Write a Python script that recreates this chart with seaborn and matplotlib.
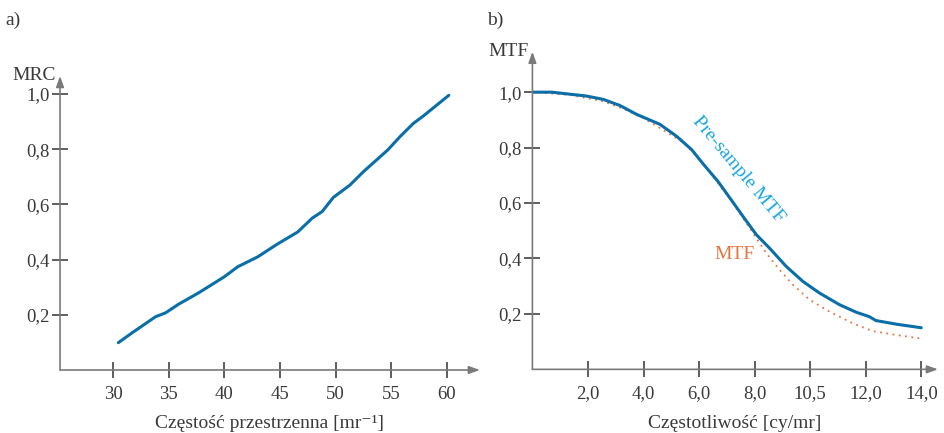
import numpy as np
import pandas as pd
import matplotlib
matplotlib.use("Agg")
import matplotlib.pyplot as plt
import seaborn as sns

# dane

# a) MRC
mrc_freq = [30.45, 31.7, 33.8, 34.7, 35.9, 37.7, 40.0, 41.2, 43.0, 44.8, 46.6,
            47.9, 48.8, 49.8, 51.3, 52.5, 54.7, 55.8, 57.0, 57.9, 60.2]
mrc_val = [0.099, 0.135, 0.193, 0.207, 0.239, 0.280, 0.338, 0.374, 0.410, 0.457, 0.500,
           0.550, 0.574, 0.625, 0.670, 0.718, 0.797, 0.845, 0.893, 0.920, 0.995]
mrc_ticks = [30, 35, 40, 45, 50, 55, 60]
mrc_yticks = [0.2, 0.4, 0.6, 0.8, 1.0]
mrc_ylabels = ["0,2", "0,4", "0,6", "0,8", "1,0"]

# b) MTF (os x w jednostkach podzialki, etykiety jak na rysunku)
pre_x = [0.0, 0.70, 1.95, 2.55, 3.15, 3.75, 4.59, 5.19, 5.73, 6.14, 6.68, 7.04,
         7.58, 8.06, 8.54, 9.14, 9.74, 10.34, 11.06, 11.66, 12.13, 12.37, 13.1, 14.0]
pre_y = [1.0, 1.0, 0.986, 0.974, 0.952, 0.920, 0.884, 0.841, 0.793, 0.742, 0.678, 0.628,
         0.552, 0.486, 0.437, 0.371, 0.317, 0.275, 0.233, 0.206, 0.190, 0.176, 0.163, 0.150]
mtf_x = [0.0, 1.35, 2.55, 3.27, 3.99, 4.71, 5.43, 6.03, 6.63, 7.22, 7.70, 8.06,
         8.42, 8.90, 9.38, 9.98, 10.70, 11.53, 12.25, 13.1, 13.93]
mtf_y = [1.0, 0.99, 0.967, 0.940, 0.907, 0.863, 0.818, 0.757, 0.679, 0.600, 0.528, 0.474,
         0.419, 0.359, 0.305, 0.251, 0.208, 0.166, 0.138, 0.124, 0.112]
mtf_ticks = [2, 4, 6, 8, 10, 12, 14]
mtf_tlabels = ["2,0", "4,0", "6,0", "8,0", "10,5", "12,0", "14,0"]

sns.set_style("white")
plt.rcParams['font.family'] = ['Liberation Serif', 'DejaVu Serif']
plt.rcParams['font.size'] = 13

txt = "#3a3a3a"
axc = "#7a7a7a"
blue = "#0a6ea8"
orange = "#e8743f"
cyan = "#17a6e0"

fig = plt.figure(figsize=(9.44, 4.33), dpi=100)
ax1 = fig.add_axes([0.0636, 0.1455, 0.4448, 0.679])
ax2 = fig.add_axes([0.564, 0.147, 0.4296, 0.7336])


def style_axes(ax):
    for s in ax.spines.values():
        s.set_visible(False)
    ax.annotate("", xy=(1, 0), xytext=(0, 0), xycoords="axes fraction",
                arrowprops=dict(arrowstyle="-|>,head_length=0.5,head_width=0.18",
                                color=axc, lw=1.2, shrinkA=0, shrinkB=0))
    ax.annotate("", xy=(0, 1), xytext=(0, 0), xycoords="axes fraction",
                arrowprops=dict(arrowstyle="-|>,head_length=0.5,head_width=0.18",
                                color=axc, lw=1.2, shrinkA=0, shrinkB=0))
    ax.tick_params(direction="inout", length=11, width=1.1, color="#333333",
                   labelcolor=txt, labelsize=13.5, left=True, bottom=True)
    ax.tick_params(axis="x", pad=6)
    ax.tick_params(axis="y", pad=2)
    ax.grid(False)


# a)
dfa = pd.DataFrame({"f": mrc_freq, "v": mrc_val})
sns.lineplot(data=dfa, x="f", y="v", ax=ax1, color=blue, lw=2.2)
ax1.set_xlim(25.2, 63.0)
ax1.set_ylim(0, 1.065)
ax1.set_xticks(mrc_ticks)
ax1.set_yticks(mrc_yticks)
ax1.set_yticklabels(mrc_ylabels)
ax1.set_xlabel("Częstość przestrzenna [mr⁻¹]", color=txt, fontsize=14, labelpad=9)
ax1.set_ylabel("")
style_axes(ax1)
ax1.text(-0.01, 1.0, "MRC", transform=ax1.transAxes, ha="right", va="center",
         color=txt, fontsize=14)
fig.text(0.006, 0.952, "a)", color=txt, fontsize=14, va="center")

# b)
dfp = pd.DataFrame({"f": pre_x, "v": pre_y})
dfm = pd.DataFrame({"f": mtf_x, "v": mtf_y})
sns.lineplot(data=dfm, x="f", y="v", ax=ax2, color=orange, lw=1.3, linestyle=(0, (1, 2.5)))
sns.lineplot(data=dfp, x="f", y="v", ax=ax2, color=blue, lw=2.2)
ax2.set_xlim(0, 14.6)
ax2.set_ylim(0, 1.146)
ax2.set_xticks(mtf_ticks)
ax2.set_xticklabels(mtf_tlabels)
ax2.set_yticks(mrc_yticks)
ax2.set_yticklabels(mrc_ylabels)
ax2.set_xlabel("Częstotliwość [cy/mr]", color=txt, fontsize=14, labelpad=9)
ax2.set_ylabel("")
style_axes(ax2)
ax2.text(-0.01, 1.0, "MTF", transform=ax2.transAxes, ha="right", va="center",
         color=txt, fontsize=14)
ax2.text(7.42, 0.72, "Pre-sample MTF", color=cyan, fontsize=14, rotation=-50,
         rotation_mode="anchor", ha="center", va="center")
ax2.text(7.28, 0.414, "MTF", color=orange, fontsize=14, ha="center", va="center")
fig.text(0.516, 0.952, "b)", color=txt, fontsize=14, va="center")

fig.savefig("out.png", dpi=100)
